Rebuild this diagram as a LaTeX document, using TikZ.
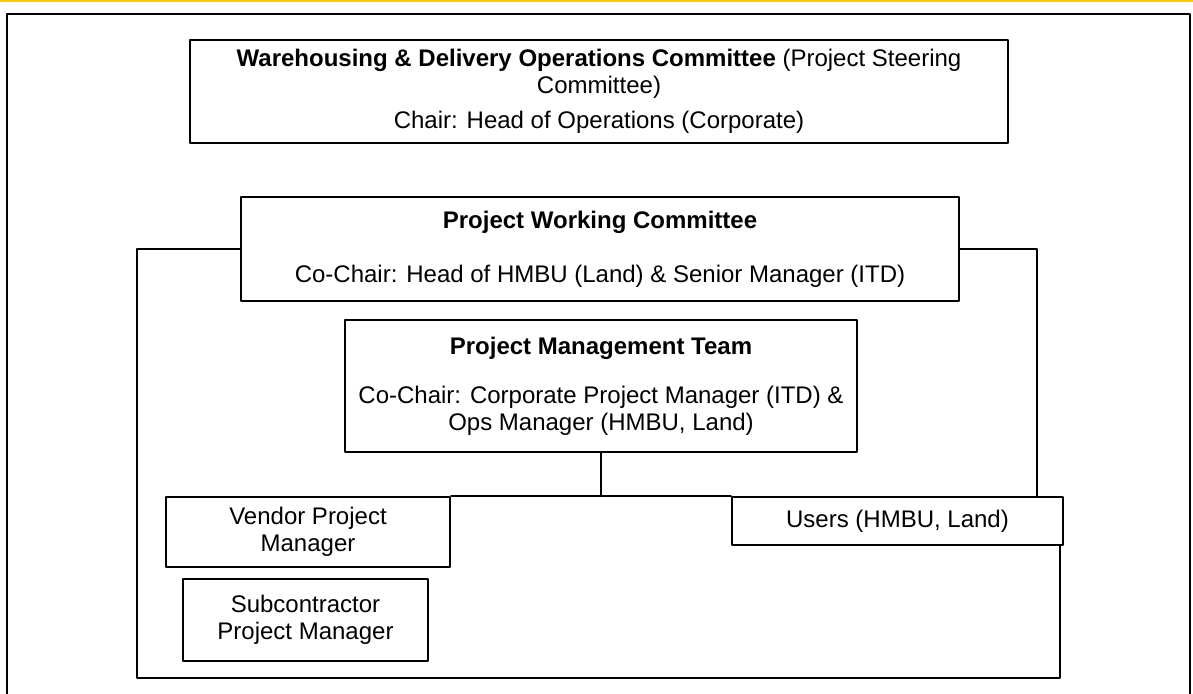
\documentclass[tikz,border=0pt]{standalone}
\usepackage{fontspec}
\setmainfont{Liberation Sans}
\usetikzlibrary{positioning}
\definecolor{ffccqq}{rgb}{1.,0.8,0.}
\begin{document}
\begin{tikzpicture}[line cap=round,line join=round,x=1pt,y=-1pt,
	box/.style={draw=black,line width=2.2pt,align=center,inner sep=0pt,font=\fontsize{24}{27}\selectfont},
	link/.style={color=black,line width=2.2pt}]
		\useasboundingbox (0,0) rectangle (1193,693);
		\fill[color=white] (0,0) rectangle (1193,693);
		\draw [color=ffccqq,line width=2.pt] (0,0.8) -- (1193,0.8);
		\draw [color=black,line width=2.2pt] (7,700) -- (7,14) -- (1190,14) -- (1190,700);
		% committees
		\node[box,minimum width=818pt,minimum height=103pt] (steer) at (599,91.5) {\textbf{Warehousing \& Delivery Operations Committee} (Project Steering\\Committee)\\[8pt]Chair: Head of Operations (Corporate)};
		\node[box,minimum width=718pt,minimum height=104pt] (work) at (600,249) {\textbf{Project Working Committee}\\[27pt]Co-Chair: Head of HMBU (Land) \& Senior Manager (ITD)};
		\node[box,minimum width=512pt,minimum height=132pt] (pmt) at (601,386) {\textbf{Project Management Team}\\[22pt]Co-Chair: Corporate Project Manager (ITD) \&\\Ops Manager (HMBU, Land)};
		% lower boxes
		\node[box,minimum width=284pt,minimum height=70pt] (vendor) at (308,532) {Vendor Project\\Manager};
		\node[box,minimum width=331pt,minimum height=48pt] (users) at (897.5,521) {Users (HMBU, Land)};
		\node[box,minimum width=245pt,minimum height=82pt] (sub) at (305.5,620) {Subcontractor\\Project Manager};
		\coordinate (loopbl) at (137,678);
		\coordinate (loopbr) at (1060,678);
		\coordinate (loopr) at (1037,497);
		% connectors
		\draw [link] (work.west) -| (loopbl) -- (loopbr) -- (loopbr |- users.south);
		\draw [link] (work.east) -| (loopr);
		\draw [link] (vendor.north east) -- (users.north west);
		\draw [link] (pmt.south) -- (pmt.south |- users.north);
\end{tikzpicture}
\end{document}
